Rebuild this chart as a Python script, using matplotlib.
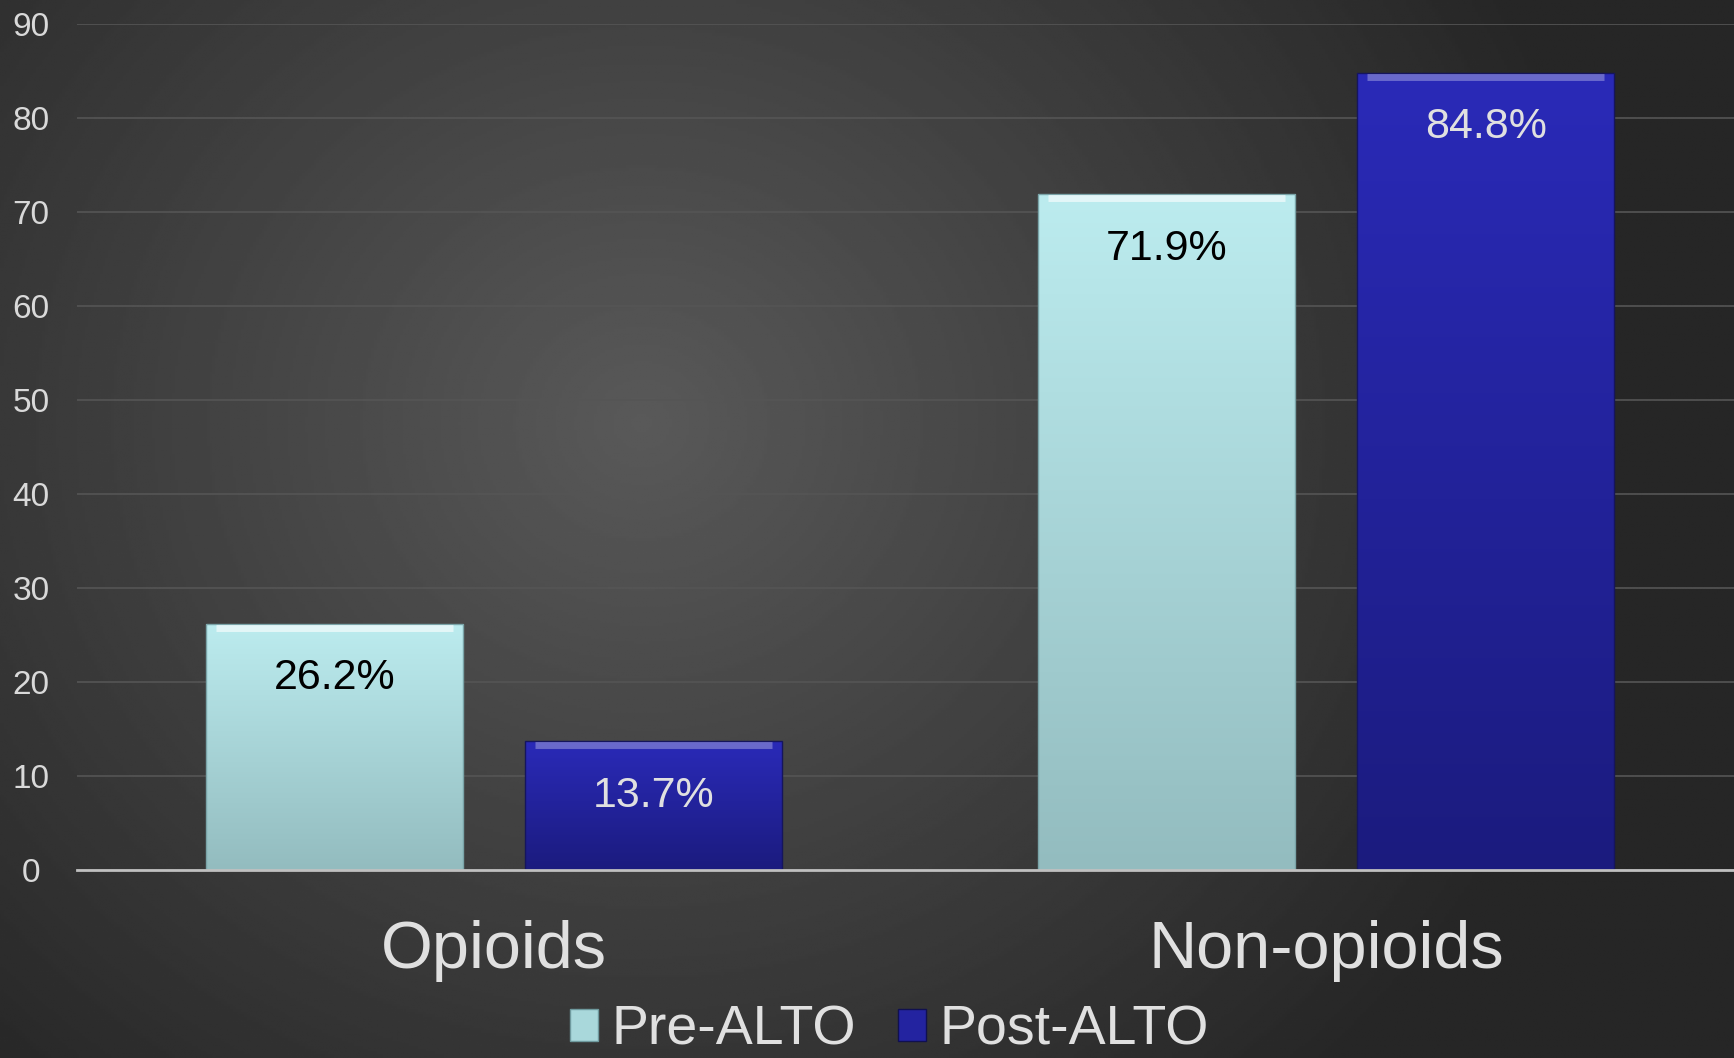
import matplotlib.pyplot as plt
import numpy as np
from matplotlib.patches import Patch

plt.rcParams['font.family'] = ['Liberation Sans', 'DejaVu Sans']

# Data
categories = ['Opioids', 'Non-opioids']
series = ['Pre-ALTO', 'Post-ALTO']
pre_alto = [26.2, 71.9]
post_alto = [13.7, 84.8]
labels_pre = ['26.2%', '71.9%']
labels_post = ['13.7%', '84.8%']

fig = plt.figure(figsize=(17.34, 10.58), dpi=100)

# radial grey background
bg = fig.add_axes([0, 0, 1, 1], zorder=0)
yy, xx = np.mgrid[0:1:400j, 0:1:600j]
r = np.sqrt(((xx - 0.37) * 1.5) ** 2 + (yy - 0.6) ** 2)
bg.imshow(0.35 - 0.2 * np.clip(r / 0.85, 0, 1), cmap='gray', vmin=0, vmax=1,
          extent=[0, 1, 0, 1], aspect='auto', origin='lower')
bg.axis('off')

ax = fig.add_axes([0.0444, 0.1777, 0.9556, 0.7996], zorder=1)
ax.patch.set_alpha(0)

x = np.arange(len(categories))
width = 0.309
off = (width + 0.0745) / 2

grad = np.linspace(0, 1, 256).reshape(-1, 1)
pre_cols = plt.matplotlib.colors.LinearSegmentedColormap.from_list('pre', ['#93bcbf', '#bcecef'])
post_cols = plt.matplotlib.colors.LinearSegmentedColormap.from_list('post', ['#1b1b7e', '#2a2ab8'])

bars_pre = ax.bar(x - off, pre_alto, width, color='none', edgecolor='#7aa4a8', linewidth=1, zorder=3)
bars_post = ax.bar(x + off, post_alto, width, color='none', edgecolor='#15155e', linewidth=1, zorder=3)

for bars, cmap, hl in [(bars_pre, pre_cols, 0.6), (bars_post, post_cols, 0.3)]:
    for b in bars:
        x0, y0 = b.get_x(), b.get_y()
        w, h = b.get_width(), b.get_height()
        im = ax.imshow(grad, cmap=cmap, extent=[x0, x0 + w, y0, y0 + h],
                       aspect='auto', origin='lower', zorder=2)
        im.set_clip_path(b)
        # bevel highlight on top
        ax.plot([x0 + 0.012, x0 + w - 0.012], [y0 + h - 0.45, y0 + h - 0.45],
                color='white', alpha=hl, lw=5, zorder=4, solid_capstyle='butt')

for b, t in zip(bars_pre, labels_pre):
    ax.text(b.get_x() + b.get_width() / 2, b.get_height() - 5.8, t,
            ha='center', va='center', fontsize=31, color='black', zorder=5)
for b, t in zip(bars_post, labels_post):
    ax.text(b.get_x() + b.get_width() / 2, b.get_height() - 5.8, t,
            ha='center', va='center', fontsize=31, color='#e0e0e0', zorder=5)

ax.set_xlim(-0.501, 1.49)
ax.set_ylim(0, 90)
ax.set_yticks(range(0, 91, 10))
ax.tick_params(axis='y', length=0, labelsize=24, labelcolor='#d9d9d9', pad=33)
ax.set_xticks(x)
ax.set_xticklabels(categories)
ax.tick_params(axis='x', length=0, labelsize=48, labelcolor='#e0e0e0', pad=36)
for lab in ax.get_yticklabels():
    lab.set_horizontalalignment('center')
ax.grid(axis='y', color='#555555', linewidth=1.2, zorder=0)
for s in ['top', 'right', 'left']:
    ax.spines[s].set_visible(False)
ax.spines['bottom'].set_color('#c0c0c0')
ax.spines['bottom'].set_linewidth(2)
ax.spines['bottom'].set_zorder(6)

handles = [Patch(facecolor='#a9d8db', edgecolor='#6f9a9e', label=series[0]),
           Patch(facecolor='#2323a0', edgecolor='#101050', label=series[1])]
fig.legend(handles=handles, loc='lower center', bbox_to_anchor=(0.513, -0.046), ncol=2,
           frameon=False, fontsize=40, labelcolor='#e0e0e0', handlelength=0.5,
           handleheight=0.5, handletextpad=0.25, columnspacing=0.75)

fig.savefig('out.png', dpi=100)
